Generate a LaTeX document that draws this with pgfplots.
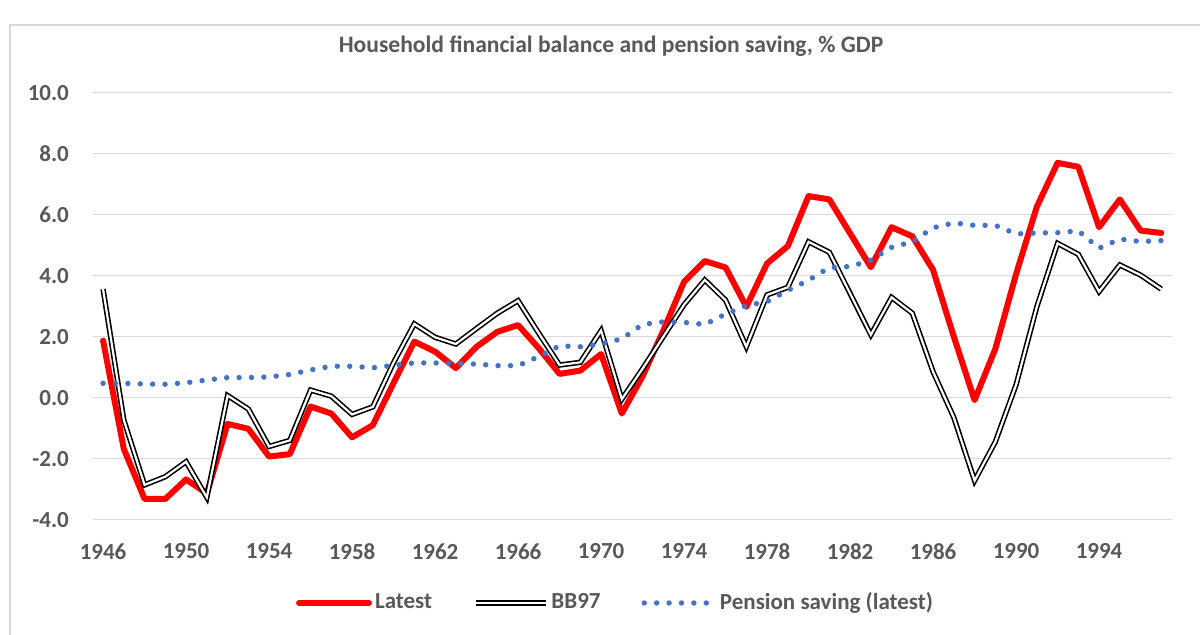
\documentclass[border=0pt]{standalone}
\usepackage{pgfplots}
\pgfplotsset{compat=1.18}
\usepackage{pgfplotstable}
\usepackage{fontspec}
\setmainfont{Carlito}
\definecolor{txtgrey}{HTML}{595959}
\definecolor{gridgrey}{HTML}{D9D9D9}
\definecolor{pblue}{HTML}{4472C4}
\definecolor{lred}{HTML}{FF0000}
\pgfplotstableread{
year latest bb97 pension
1946 1.87 3.56 0.47
1947 -1.68 -0.73 0.47
1948 -3.32 -2.86 0.45
1949 -3.32 -2.59 0.44
1950 -2.68 -2.10 0.49
1951 -3.14 -3.27 0.58
1952 -0.86 0.07 0.66
1953 -1.02 -0.37 0.66
1954 -1.93 -1.60 0.68
1955 -1.85 -1.40 0.76
1956 -0.29 0.25 0.91
1957 -0.52 0.05 1.03
1958 -1.30 -0.55 1.03
1959 -0.90 -0.30 0.98
1960 0.48 1.15 1.06
1961 1.84 2.42 1.14
1962 1.51 1.98 1.14
1963 0.97 1.76 1.12
1964 1.67 2.27 1.10
1965 2.16 2.77 1.05
1966 2.38 3.18 1.05
1967 1.62 2.11 1.35
1968 0.78 1.07 1.70
1969 0.89 1.16 1.67
1970 1.43 2.20 1.76
1971 -0.52 -0.05 1.93
1972 0.70 0.95 2.40
1973 2.20 2.00 2.49
1974 3.80 3.05 2.47
1975 4.48 3.86 2.40
1976 4.27 3.20 2.74
1977 2.98 1.67 3.02
1978 4.40 3.37 3.15
1979 4.97 3.62 3.52
1980 6.61 5.11 3.85
1981 6.50 4.77 4.27
1982 5.39 3.42 4.30
1983 4.28 2.06 4.51
1984 5.59 3.29 4.93
1985 5.29 2.77 5.11
1986 4.19 0.85 5.57
1987 2.00 -0.65 5.73
1988 -0.08 -2.72 5.65
1989 1.60 -1.45 5.65
1990 4.05 0.42 5.37
1991 6.26 2.98 5.40
1992 7.70 5.06 5.41
1993 7.57 4.70 5.47
1994 5.59 3.48 4.90
1995 6.50 4.35 5.20
1996 5.48 4.02 5.12
1997 5.40 3.56 5.15
}\datatable
\begin{document}
\begin{tikzpicture}
\path[use as bounding box, fill=white] (0,0) rectangle (600pt,317.5pt);
\draw[gridgrey, line width=0.75pt] (5pt,-5pt) rectangle (610pt,305pt);
\node[font=\bfseries\fontsize{11.8}{13}\selectfont, text=txtgrey] at (305.5pt,294.5pt) {Household financial balance and pension saving, \% GDP};
\begin{axis}[
  at={(46.35pt,57.65pt)}, anchor=south west,
  scale only axis, width=539.5pt, height=213.5pt,
  xmin=1945.5, xmax=1997.5, ymin=-4, ymax=10,
  axis line style={draw=none},
  major tick length=0pt,
  ymajorgrids, grid style={gridgrey, line width=0.75pt},
  xtick={1946,1950,1954,1958,1962,1966,1970,1974,1978,1982,1986,1990,1994},
  xticklabels={1946,1950,1954,1958,1962,1966,1970,1974,1978,1982,1986,1990,1994},
  ytick={-4,-2,0,2,4,6,8,10},
  yticklabels={-4.0,-2.0,0.0,2.0,4.0,6.0,8.0,10.0},
  tick label style={font=\bfseries\fontsize{11.5}{13}\selectfont, text=txtgrey, inner sep=0pt},
  yticklabel style={anchor=east, xshift=-11.7pt},
  xticklabel style={anchor=north, yshift=-11.8pt},
  legend style={at={(0.485,-0.195)}, anchor=center, draw=none, fill=none,
    font=\bfseries\fontsize{11.5}{13}\selectfont, text=txtgrey,
    /tikz/every even column/.append style={column sep=19pt},
    nodes={inner sep=1.5pt}},
  legend columns=3,
  legend image code/.code={\draw[#1] (0pt,0pt) -- (35pt,0pt);},
]
\addplot[lred, line width=3pt, line join=round, line cap=round] table[x=year, y=latest] {\datatable};
\addlegendentry{Latest}
\addplot[black, line width=0.8pt, double=white, double distance=1.1pt] table[x=year, y=bb97] {\datatable};
\addlegendentry{BB97}
\addplot[pblue, line width=2.7pt, line cap=round, dash pattern=on 0pt off 6.2pt] table[x=year, y=pension] {\datatable};
\addlegendentry{Pension saving (latest)}
\end{axis}
\end{tikzpicture}
\end{document}
